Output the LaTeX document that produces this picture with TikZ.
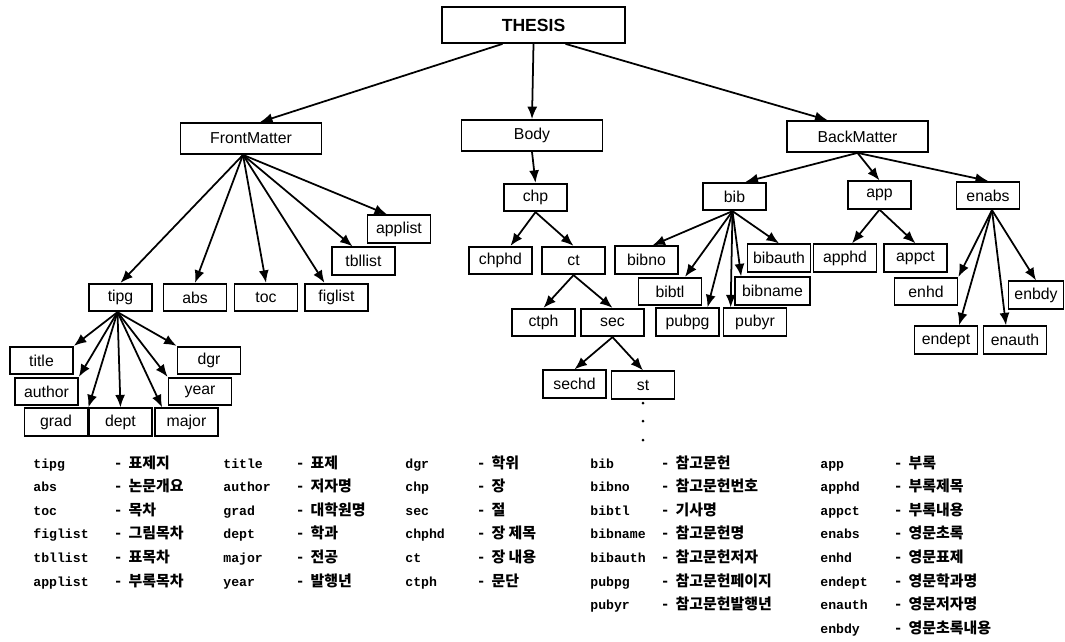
\documentclass[tikz,border=0pt]{standalone}
\usepackage{fontspec}
\setmainfont{Liberation Sans}
\newfontfamily\krfont{Noto Sans CJK KR}
\newfontfamily\keyfont{Liberation Mono}
\usetikzlibrary{arrows.meta, calc}

\begin{document}
\begin{tikzpicture}[
  x=0.2mm, y=-0.2mm,
  box/.style={draw, fill=white, line width=1pt, minimum width=12.6mm,
              minimum height=5.5mm, inner sep=1pt, font=\fontsize{9}{10}\selectfont},
  topbox/.style={box, minimum width=28.2mm, minimum height=6.2mm},
  rootbox/.style={box, minimum width=36.6mm, minimum height=7.2mm,
              font=\fontsize{10}{12}\selectfont\bfseries},
  fwd/.style={-{Latex[length=2.5mm,width=2mm]}, line width=1pt},
  dotmark/.style={circle, fill=black, minimum size=0.6mm, inner sep=0pt},
  legkey/.style={anchor=base west, inner sep=0pt, font=\keyfont\bfseries\fontsize{7.5}{9}\selectfont},
  legval/.style={anchor=base west, inner sep=0pt, font=\krfont\bfseries\fontsize{8.5}{10}\selectfont},
]
\useasboundingbox (0,0) rectangle (1065,641);

% --- root and top level ---
\node[rootbox] (thesis) at (533.5,25)  {THESIS};
\node[topbox]  (fm)     at (251,138.5) {FrontMatter};
\node[topbox]  (body)   at (532,135.5) {Body};
\node[topbox]  (bm)     at (857.5,136.5) {BackMatter};

% --- front matter ---
\node[box] (tipg)    at (120.5,297.5) {tipg};
\node[box] (abs)     at (195,297.5)   {abs};
\node[box] (toc)     at (266,297.5)   {toc};
\node[box] (figlist) at (336.5,297.5) {figlist};
\node[box] (tbllist) at (363.5,261)   {tbllist};
\node[box] (applist) at (399,229)     {applist};

\node[box] (title)  at (41.5,360.5) {title};
\node[box] (author) at (46.5,391.5) {author};
\node[box] (grad)   at (56,422)     {grad};
\node[box] (dept)   at (120.5,422)  {dept};
\node[box] (major)  at (186.5,422)  {major};
\node[box] (year)   at (200,391.5)  {year};
\node[box] (dgr)    at (209,360.5)  {dgr};

% --- body ---
\node[box] (chp)   at (535.5,197.5) {chp};
\node[box] (chphd) at (500.5,260.5) {chphd};
\node[box] (ct)    at (573.5,260.5) {ct};
\node[box] (ctph)  at (543.5,322.5) {ctph};
\node[box] (sec)   at (612.5,322.5) {sec};
\node[box] (sechd) at (574.5,384)   {sechd};
\node[box] (st)    at (643,385)     {st};
\node[dotmark] (dot1) at (643,403) {};
\node[dotmark] (dot2) at (643,421) {};
\node[dotmark] (dot3) at (643,440) {};

% --- back matter ---
\node[box] (bib)     at (734.5,196.5) {bib};
\node[box] (bibno)   at (646.5,260)   {bibno};
\node[box] (bibtl)   at (670,291.5)   {bibtl};
\node[box] (pubpg)   at (687.5,322)   {pubpg};
\node[box] (pubyr)   at (755,322)     {pubyr};
\node[box, minimum width=15mm] (bibname) at (772.5,291) {bibname};
\node[box] (bibauth) at (779,258)     {bibauth};

\node[box] (app)    at (879.5,195) {app};
\node[box] (apphd)  at (845,258)   {apphd};
\node[box] (appct)  at (915.5,258) {appct};
\node[box] (enabs)  at (988,195.5) {enabs};
\node[box] (enhd)   at (926,291.5) {enhd};
\node[box, minimum width=11mm] (enbdy) at (1036,295) {enbdy};
\node[box] (endept) at (946,340)   {endept};
\node[box] (enauth) at (1015,340)  {enauth};

% --- arrows ---
\draw[fwd] ($(thesis.south)+(-31,0)$) -- ($(fm.north)+(9,0)$);
\draw[fwd] (thesis.south) -- (body.north);
\draw[fwd] ($(thesis.south)+(32,0)$) -- ($(bm.north)+(-30,0)$);

\draw[fwd] ($(fm.south)+(-8,0)$) -- (tipg.north);
\draw[fwd] ($(fm.south)+(-8,0)$) -- (abs.north);
\draw[fwd] ($(fm.south)+(-8,0)$) -- (toc.north);
\draw[fwd] ($(fm.south)+(-8,0)$) -- ($(figlist.north)+(-12,0)$);
\draw[fwd] ($(fm.south)+(-8,0)$) -- ($(tbllist.north)+(-11,0)$);
\draw[fwd] ($(fm.south)+(-8,0)$) -- ($(applist.north)+(-12,0)$);

\draw[fwd] ($(tipg.south)+(-3,0)$) -- (title.north east);
\draw[fwd] ($(tipg.south)+(-3,0)$) -- (author.north east);
\draw[fwd] ($(tipg.south)+(-3,0)$) -- (grad.north east);
\draw[fwd] ($(tipg.south)+(-3,0)$) -- (dept.north);
\draw[fwd] ($(tipg.south)+(-3,0)$) -- ($(major.north west)+(8,0)$);
\draw[fwd] ($(tipg.south)+(-3,0)$) -- (year.north west);
\draw[fwd] ($(tipg.south)+(-3,0)$) -- (dgr.north west);

\draw[fwd] (body.south) -- (chp.north);
\draw[fwd] (chp.south) -- ($(chphd.north)+(10,0)$);
\draw[fwd] (chp.south) -- (ct.north);
\draw[fwd] (ct.south) -- (ctph.north);
\draw[fwd] (ct.south) -- (sec.north);
\draw[fwd] (sec.south) -- (sechd.north);
\draw[fwd] (sec.south) -- (st.north);

\draw[fwd] (bm.south) -- ($(bib.north)+(11,0)$);
\draw[fwd] (bm.south) -- (app.north);
\draw[fwd] (bm.south) -- (enabs.north);

\draw[fwd] ($(bib.south)+(-2,0)$) -- ($(bibno.north)+(6,0)$);
\draw[fwd] ($(bib.south)+(-2,0)$) -- ($(bibtl.north)+(15,0)$);
\draw[fwd] ($(bib.south)+(-2,0)$) -- ($(pubpg.north)+(20,0)$);
\draw[fwd] ($(bib.south)+(-2,0)$) -- ($(pubyr.north west)+(8,0)$);
\draw[fwd] ($(bib.south)+(-2,0)$) -- ($(bibname.north west)+(7,0)$);
\draw[fwd] ($(bib.south)+(-2,0)$) -- (bibauth.north);

\draw[fwd] (app.south) -- ($(apphd.north)+(7,0)$);
\draw[fwd] (app.south) -- (appct.north);

\draw[fwd] ($(enabs.south)+(4,0)$) -- (enhd.north east);
\draw[fwd] ($(enabs.south)+(4,0)$) -- ($(endept.north)+(13,0)$);
\draw[fwd] ($(enabs.south)+(4,0)$) -- ($(enauth.north)+(-9,0)$);
\draw[fwd] ($(enabs.south)+(4,0)$) -- (enbdy.north);

% --- legend ---
\node[legkey] (ktipg)    at (33,468)   {tipg};    \node[legval] (vtipg)    at (115,468)   {-\enspace 표제지};
\node[legkey] (kabs)     at (33,491.6) {abs};     \node[legval] (vabs)     at (115,491.6) {-\enspace 논문개요};
\node[legkey] (ktoc)     at (33,515.2) {toc};     \node[legval] (vtoc)     at (115,515.2) {-\enspace 목차};
\node[legkey] (kfiglist) at (33,538.8) {figlist}; \node[legval] (vfiglist) at (115,538.8) {-\enspace 그림목차};
\node[legkey] (ktbllist) at (33,562.4) {tbllist}; \node[legval] (vtbllist) at (115,562.4) {-\enspace 표목차};
\node[legkey] (kapplist) at (33,586)   {applist}; \node[legval] (vapplist) at (115,586)   {-\enspace 부록목차};

\node[legkey] (ktitle)  at (223,468)   {title};  \node[legval] (vtitle)  at (297,468)   {-\enspace 표제};
\node[legkey] (kauthor) at (223,491.6) {author}; \node[legval] (vauthor) at (297,491.6) {-\enspace 저자명};
\node[legkey] (kgrad)   at (223,515.2) {grad};   \node[legval] (vgrad)   at (297,515.2) {-\enspace 대학원명};
\node[legkey] (kdept)   at (223,538.8) {dept};   \node[legval] (vdept)   at (297,538.8) {-\enspace 학과};
\node[legkey] (kmajor)  at (223,562.4) {major};  \node[legval] (vmajor)  at (297,562.4) {-\enspace 전공};
\node[legkey] (kyear)   at (223,586)   {year};   \node[legval] (vyear)   at (297,586)   {-\enspace 발행년};

\node[legkey] (kdgr)   at (405,468)   {dgr};   \node[legval] (vdgr)   at (478,468)   {-\enspace 학위};
\node[legkey] (kchp)   at (405,491.6) {chp};   \node[legval] (vchp)   at (478,491.6) {-\enspace 장};
\node[legkey] (ksec)   at (405,515.2) {sec};   \node[legval] (vsec)   at (478,515.2) {-\enspace 절};
\node[legkey] (kchphd) at (405,538.8) {chphd}; \node[legval] (vchphd) at (478,538.8) {-\enspace 장 제목};
\node[legkey] (kct)    at (405,562.4) {ct};    \node[legval] (vct)    at (478,562.4) {-\enspace 장 내용};
\node[legkey] (kctph)  at (405,586)   {ctph};  \node[legval] (vctph)  at (478,586)   {-\enspace 문단};

\node[legkey] (kbib)     at (590,468)   {bib};     \node[legval] (vbib)     at (662,468)   {-\enspace 참고문헌};
\node[legkey] (kbibno)   at (590,491.6) {bibno};   \node[legval] (vbibno)   at (662,491.6) {-\enspace 참고문헌번호};
\node[legkey] (kbibtl)   at (590,515.2) {bibtl};   \node[legval] (vbibtl)   at (662,515.2) {-\enspace 기사명};
\node[legkey] (kbibname) at (590,538.8) {bibname}; \node[legval] (vbibname) at (662,538.8) {-\enspace 참고문헌명};
\node[legkey] (kbibauth) at (590,562.4) {bibauth}; \node[legval] (vbibauth) at (662,562.4) {-\enspace 참고문헌저자};
\node[legkey] (kpubpg)   at (590,586)   {pubpg};   \node[legval] (vpubpg)   at (662,586)   {-\enspace 참고문헌페이지};
\node[legkey] (kpubyr)   at (590,609.6) {pubyr};   \node[legval] (vpubyr)   at (662,609.6) {-\enspace 참고문헌발행년};

\node[legkey] (kapp)    at (820,468)   {app};    \node[legval] (vapp)    at (895,468)   {-\enspace 부록};
\node[legkey] (kapphd)  at (820,491.6) {apphd};  \node[legval] (vapphd)  at (895,491.6) {-\enspace 부록제목};
\node[legkey] (kappct)  at (820,515.2) {appct};  \node[legval] (vappct)  at (895,515.2) {-\enspace 부록내용};
\node[legkey] (kenabs)  at (820,538.8) {enabs};  \node[legval] (venabs)  at (895,538.8) {-\enspace 영문초록};
\node[legkey] (kenhd)   at (820,562.4) {enhd};   \node[legval] (venhd)   at (895,562.4) {-\enspace 영문표제};
\node[legkey] (kendept) at (820,586)   {endept}; \node[legval] (vendept) at (895,586)   {-\enspace 영문학과명};
\node[legkey] (kenauth) at (820,609.6) {enauth}; \node[legval] (venauth) at (895,609.6) {-\enspace 영문저자명};
\node[legkey] (kenbdy)  at (820,633.2) {enbdy};  \node[legval] (venbdy)  at (895,633.2) {-\enspace 영문초록내용};
\end{tikzpicture}
\end{document}
